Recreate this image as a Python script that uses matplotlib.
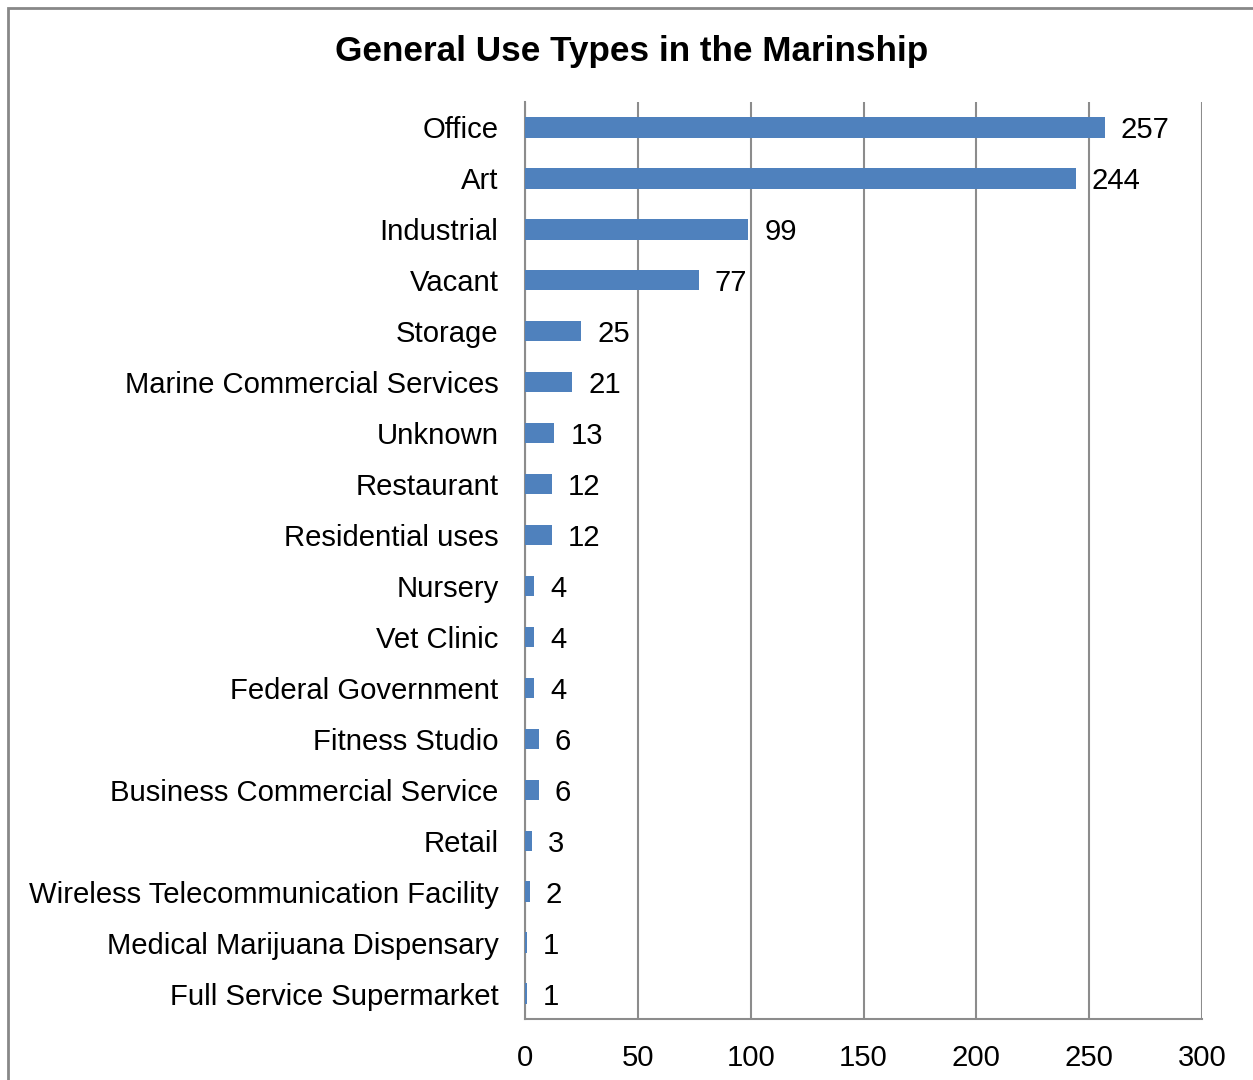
import matplotlib
matplotlib.use("Agg")
import matplotlib.pyplot as plt
from matplotlib.patches import Rectangle

plt.rcParams['font.family'] = ['Liberation Sans', 'DejaVu Sans']

categories = ["Office", "Art", "Industrial", "Vacant", "Storage",
              "Marine Commercial Services", "Unknown", "Restaurant",
              "Residential uses", "Nursery", "Vet Clinic", "Federal Government",
              "Fitness Studio", "Business Commercial Service", "Retail",
              "Wireless Telecommunication Facility", "Medical Marijuana Dispensary",
              "Full Service Supermarket"]
values = [257, 244, 99, 77, 25, 21, 13, 12, 12, 4, 4, 4, 6, 6, 3, 2, 1, 1]
xticks = [0, 50, 100, 150, 200, 250, 300]
title = "General Use Types in the Marinship"

W, H = 1253, 1080
FS = 21.1
fig = plt.figure(figsize=(W / 100, H / 100), dpi=100)
ax = fig.add_axes([525 / W, 1 - 1019 / H, (1202 - 525) / W, (1019 - 102) / H])

n = len(categories)
ypos = list(range(n))
ax.barh(ypos, values, height=0.4, color="#4F81BD", zorder=3)
ax.set_ylim(n - 0.5, -0.5)
ax.set_xlim(0, 300)
ax.set_xticks(xticks)
ax.set_xticklabels([str(t) for t in xticks], fontsize=FS)
ax.set_yticks(ypos)
ax.set_yticklabels(categories, fontsize=FS)
ax.tick_params(axis='both', length=0)
ax.tick_params(axis='x', pad=18)
ax.tick_params(axis='y', pad=19)
ax.grid(axis='x', color="#8c8c8c", linewidth=1.5, zorder=0)
for s in ["top", "right"]:
    ax.spines[s].set_visible(False)
for s in ["left", "bottom"]:
    ax.spines[s].set_color("#8c8c8c")
    ax.spines[s].set_linewidth(1.5)

for y, v in zip(ypos, values):
    ax.annotate(str(v), (v, y), xytext=(11.5, 0), textcoords="offset points",
                va="center_baseline", ha="left", fontsize=FS, color="black")

fig.text(632 / W, 1 - 52 / H, title, ha="center", va="center",
         fontsize=25.3, fontweight="bold")

fig.patches.append(Rectangle((8 / W, -0.05), 1.2, 1 - 8 / H + 0.05,
                             transform=fig.transFigure, fill=False,
                             edgecolor="#888888", linewidth=2))

fig.savefig("out.png", dpi=100)
